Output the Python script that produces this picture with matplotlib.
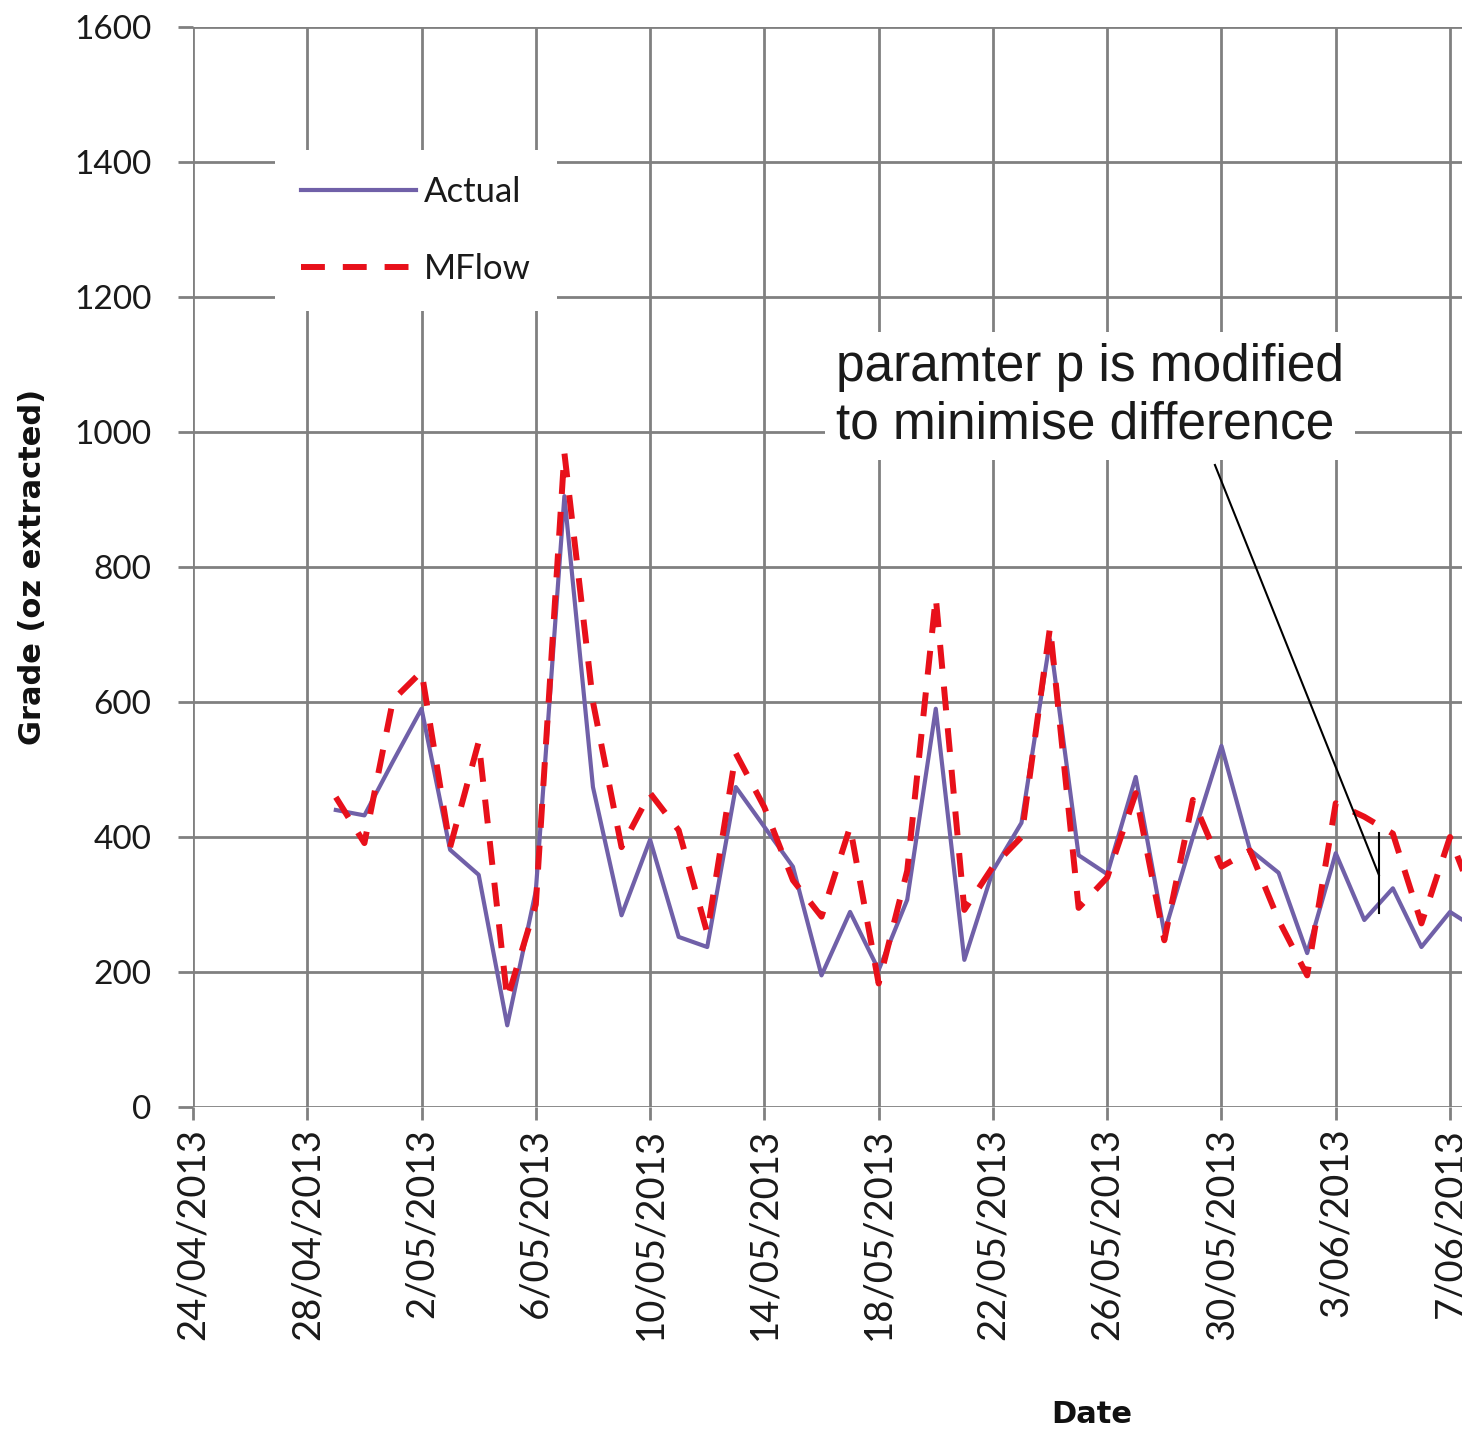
import datetime as dt
import matplotlib
matplotlib.use("Agg")
import matplotlib.pyplot as plt
import matplotlib.dates as mdates
from matplotlib.ticker import FuncFormatter

# ---- data ----
start_date = dt.date(2013, 4, 29)
actual = [440, 432, 512, 590, 381, 344, 121, 320, 905, 474, 284, 396, 252, 237,
          474, 415, 356, 195, 289, 203, 307, 590, 218, 350, 421, 692, 373, 345,
          489, 258, 400, 535, 381, 347, 228, 376, 277, 324, 237, 289, 262]
mflow = [459, 391, 603, 645, 385, 541, 160, 300, 969, 600, 385, 465, 410, 258,
         524, 444, 336, 282, 415, 183, 350, 755, 292, 356, 400, 711, 295, 340,
         465, 247, 455, 356, 380, 277, 195, 450, 430, 405, 272, 400, 290]
dates = [start_date + dt.timedelta(days=i) for i in range(len(actual))]
tick_dates = [dt.date(2013, 4, 24) + dt.timedelta(days=4 * i) for i in range(12)]
y_ticks = [0, 200, 400, 600, 800, 1000, 1200, 1400, 1600]
series_labels = ["Actual", "MFlow"]
annotation_text = "paramter p is modified\nto minimise difference"

plt.rcParams['font.family'] = ['Lato', 'DejaVu Sans']

fig = plt.figure(figsize=(14.62, 14.32), dpi=100)
ax = fig.add_axes([193 / 1462, 1 - 1107 / 1432, 1269 / 1462, 1080 / 1432])

grid_col = '#808080'
ax.plot(dates, actual, color='#7060A8', lw=3.0, label=series_labels[0], zorder=3)
ax.plot(dates, mflow, color='#E8101A', lw=4.3, linestyle=(0, (4, 3)),
        label=series_labels[1], zorder=4)

x0 = mdates.date2num(dt.date(2013, 4, 24))
ax.set_xlim(x0, x0 + 44.42)
ax.set_ylim(0, 1600)
ax.set_xticks([mdates.date2num(d) for d in tick_dates])
ax.xaxis.set_major_formatter(FuncFormatter(
    lambda v, p: (lambda d: f"{d.day}/{d.month:02d}/{d.year}")(mdates.num2date(v))))
ax.set_yticks(y_ticks)
ax.grid(True, color=grid_col, lw=2.0, zorder=1)
for s in ax.spines.values():
    s.set_visible(False)
ax.tick_params(axis='x', length=9, width=2.0, color=grid_col, pad=6,
               labelsize=27.5, labelrotation=90, labelcolor='#1a1a1a')
ax.tick_params(axis='y', length=11, width=2.0, color=grid_col, pad=19,
               labelsize=24, labelcolor='#1a1a1a')

ax.set_ylabel("Grade (oz extracted)", fontsize=22, fontweight='bold',
              family='DejaVu Sans', color='#111111')
ax.yaxis.set_label_coords(-(193 - 47) / 1269, 0.5)
ax.set_xlabel("Date", fontsize=22, fontweight='bold', family='DejaVu Sans',
              color='#111111')
ax.xaxis.set_label_coords((1092 - 193) / 1269, -(1400 - 1107) / 1080)

leg = ax.legend(loc='upper left', bbox_to_anchor=((275 - 193) / 1269, (1107 - 150) / 1080),
                fontsize=25, frameon=True, fancybox=False, handlelength=3.3,
                handletextpad=0.25, labelspacing=1.3, borderpad=0.75,
                borderaxespad=0)
leg.get_frame().set_facecolor('white')
leg.get_frame().set_edgecolor('none')
leg.get_frame().set_alpha(1)
leg.set_zorder(6)
for t in leg.get_texts():
    t.set_color('#1a1a1a')

# annotation
def px2data(px, py):
    return x0 + (px - 193) / 28.57, (1107 - py) / 0.675

tx, ty = px2data(836, 396)
ax.text(tx, ty, annotation_text, fontsize=37, family='Liberation Sans',
        color='#1a1a1a', ha='left', va='center', linespacing=1.22, zorder=7,
        bbox=dict(facecolor='white', edgecolor='none', pad=8))
a1 = px2data(1215, 465)
a2 = px2data(1379, 875)
ax.plot([a1[0], a2[0]], [a1[1], a2[1]], color='black', lw=1.5, zorder=8)
v1 = px2data(1379, 833)
v2 = px2data(1379, 913)
ax.plot([v1[0], v2[0]], [v1[1], v2[1]], color='black', lw=1.5, zorder=8)

fig.savefig("out.png", dpi=100)
